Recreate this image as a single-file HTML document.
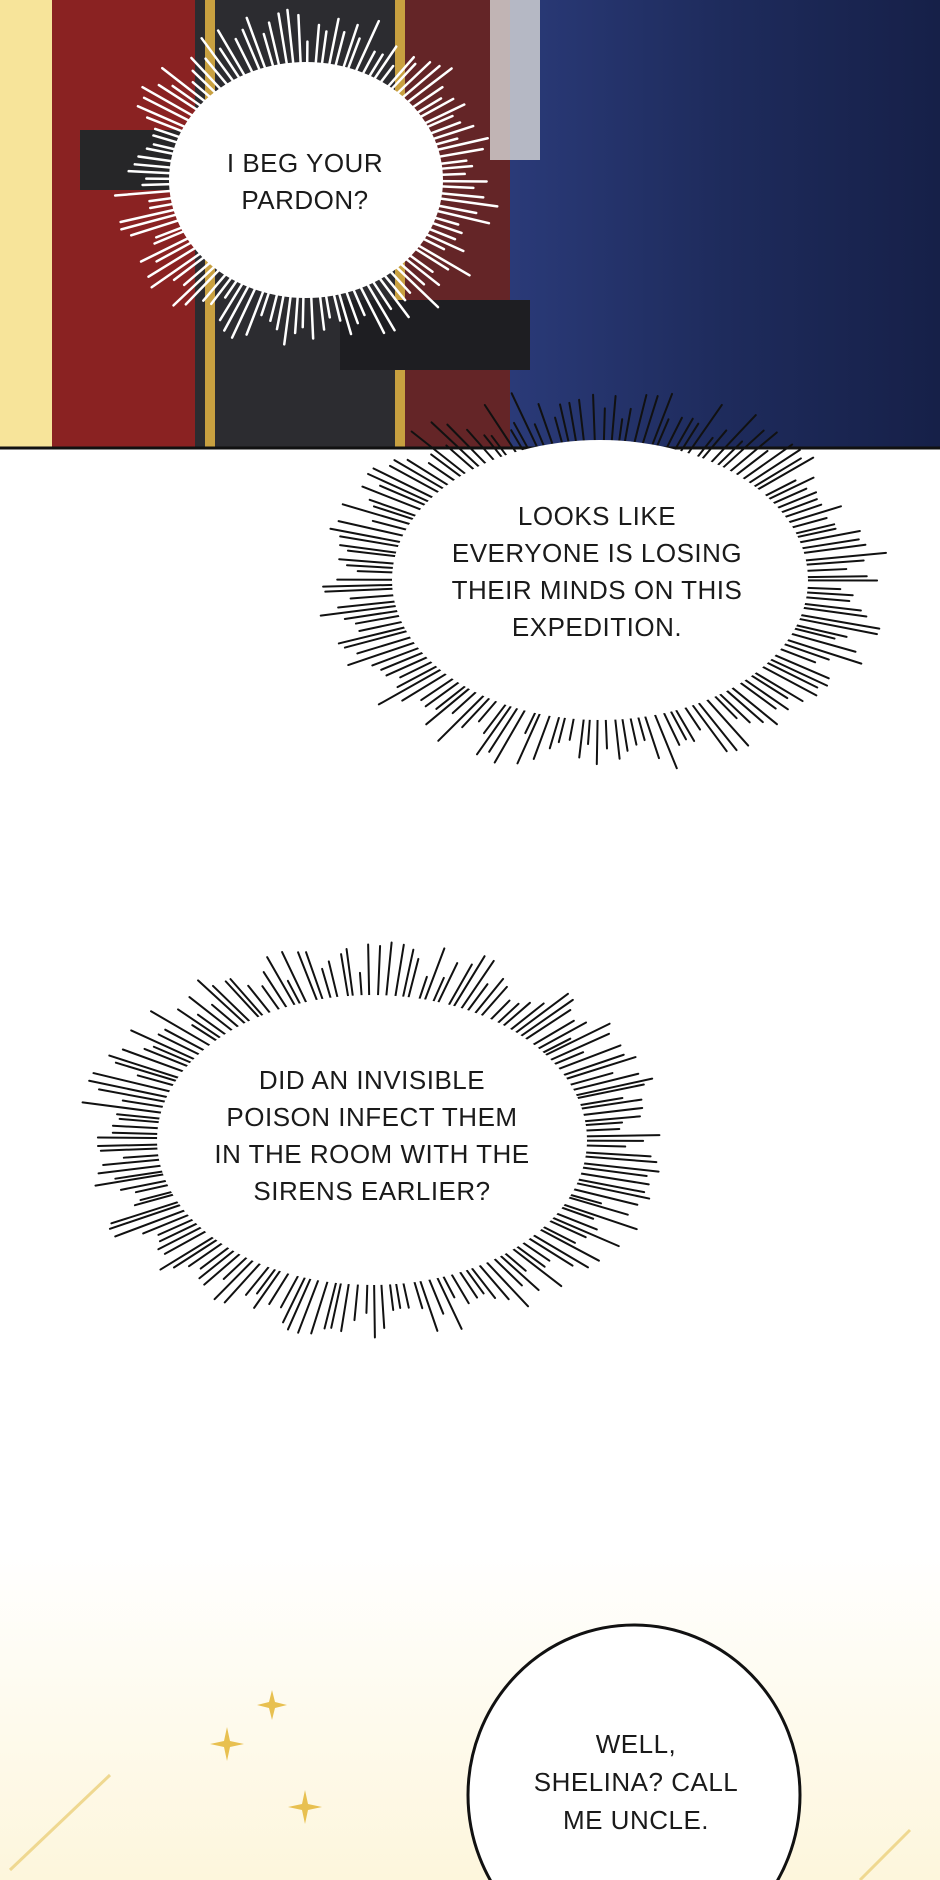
<!DOCTYPE html>
<html><head><meta charset="utf-8">
<style>
html,body{margin:0;padding:0;}
body{width:940px;height:1880px;position:relative;overflow:hidden;background:#fff;font-family:"Liberation Sans",sans-serif;}
svg{position:absolute;left:0;top:0;}
text{font-family:"Liberation Sans",sans-serif;font-size:26px;fill:#1a1a1a;text-anchor:middle;letter-spacing:0.5px}
</style></head><body>
<svg id="s" width="940" height="1880" viewBox="0 0 940 1880">
<defs>
<linearGradient id="bot" x1="0" y1="0" x2="0" y2="1">
<stop offset="0" stop-color="#fff"/><stop offset="1" stop-color="#fdf6dc"/></linearGradient>
<linearGradient id="blue" x1="0" y1="0" x2="1" y2="0">
<stop offset="0" stop-color="#2a3a78"/><stop offset="0.5" stop-color="#1e2b5c"/><stop offset="1" stop-color="#162048"/></linearGradient>
</defs>
<rect x="0" y="1550" width="940" height="330" fill="url(#bot)"/>
<rect x="0" y="0" width="940" height="448" fill="#f7e49a"/>
<rect x="52" y="0" width="160" height="448" fill="#8a2222"/>
<rect x="195" y="0" width="330" height="448" fill="#2c2c30"/>
<rect x="80" y="130" width="180" height="60" fill="#262628"/>
<rect x="205" y="0" width="10" height="448" fill="#c8a040"/>
<rect x="395" y="0" width="10" height="448" fill="#c8a040"/>
<rect x="405" y="0" width="120" height="448" fill="#8a2222" opacity="0.6"/>
<rect x="510" y="0" width="430" height="448" fill="url(#blue)"/>
<rect x="490" y="0" width="50" height="160" fill="#d8d8d8" opacity="0.8"/>
<rect x="340" y="300" width="190" height="70" fill="#1e1e22"/>
<line x1="0" y1="448" x2="940" y2="448" stroke="#111" stroke-width="3"/>
<g id="b1"></g>
<ellipse cx="306" cy="180" rx="137" ry="118" fill="#fff"/>
<text x="305" y="172">I BEG YOUR</text>
<text x="305" y="209">PARDON?</text>
<g id="b2"></g>
<ellipse cx="600" cy="580" rx="208" ry="140" fill="#fff"/>
<text x="597" y="525">LOOKS LIKE</text>
<text x="597" y="562">EVERYONE IS LOSING</text>
<text x="597" y="599">THEIR MINDS ON THIS</text>
<text x="597" y="636">EXPEDITION.</text>
<g id="b3"></g>
<ellipse cx="372" cy="1140" rx="215" ry="145" fill="#fff"/>
<text x="372" y="1089">DID AN INVISIBLE</text>
<text x="372" y="1126">POISON INFECT THEM</text>
<text x="372" y="1163">IN THE ROOM WITH THE</text>
<text x="372" y="1200">SIRENS EARLIER?</text>
<ellipse cx="634" cy="1795" rx="166" ry="170" fill="#fff" stroke="#111" stroke-width="3"/>
<text x="636" y="1753">WELL,</text>
<text x="636" y="1791">SHELINA? CALL</text>
<text x="636" y="1829">ME UNCLE.</text>
<g fill="#e8c050">
<path d="M272 1690 l3 12 l12 3 l-12 3 l-3 12 l-3 -12 l-12 -3 l12 -3z"/>
<path d="M227 1727 l3 14 l14 3 l-14 3 l-3 14 l-3 -14 l-14 -3 l14 -3z"/>
<path d="M305 1790 l3 14 l14 3 l-14 3 l-3 14 l-3 -14 l-14 -3 l14 -3z"/>
</g>
<path d="M10 1870 L110 1775" stroke="#efd890" stroke-width="3" fill="none"/>
<path d="M860 1880 L910 1830" stroke="#efd890" stroke-width="3" fill="none"/>
</svg>
<script>
var seed=7;function r(){seed=(seed*9301+49297)%233280;return seed/233280;}
function burst(id,cx,cy,rx,ry,n,lo,hi,col,w){
 var g=document.getElementById(id),s='';
 for(var i=0;i<n;i++){var a=i/n*Math.PI*2+r()*0.02;
  var k=lo+r()*(hi-lo);var c=Math.cos(a),si=Math.sin(a);
  var x1=cx+c*rx*0.95,y1=cy+si*ry*0.95,x2=cx+c*rx*k,y2=cy+si*ry*k;
  s+='<line x1="'+x1+'" y1="'+y1+'" x2="'+x2+'" y2="'+y2+'" stroke="'+col+'" stroke-width="'+w+'" stroke-linecap="round"/>';}
 g.innerHTML=s;}
burst('b1',306,180,137,118,120,1.15,1.45,'#fff',2.5);
burst('b2',600,580,208,140,160,1.15,1.4,'#111',2);
burst('b3',372,1140,215,145,170,1.15,1.38,'#111',2);
</script>
</body></html>
